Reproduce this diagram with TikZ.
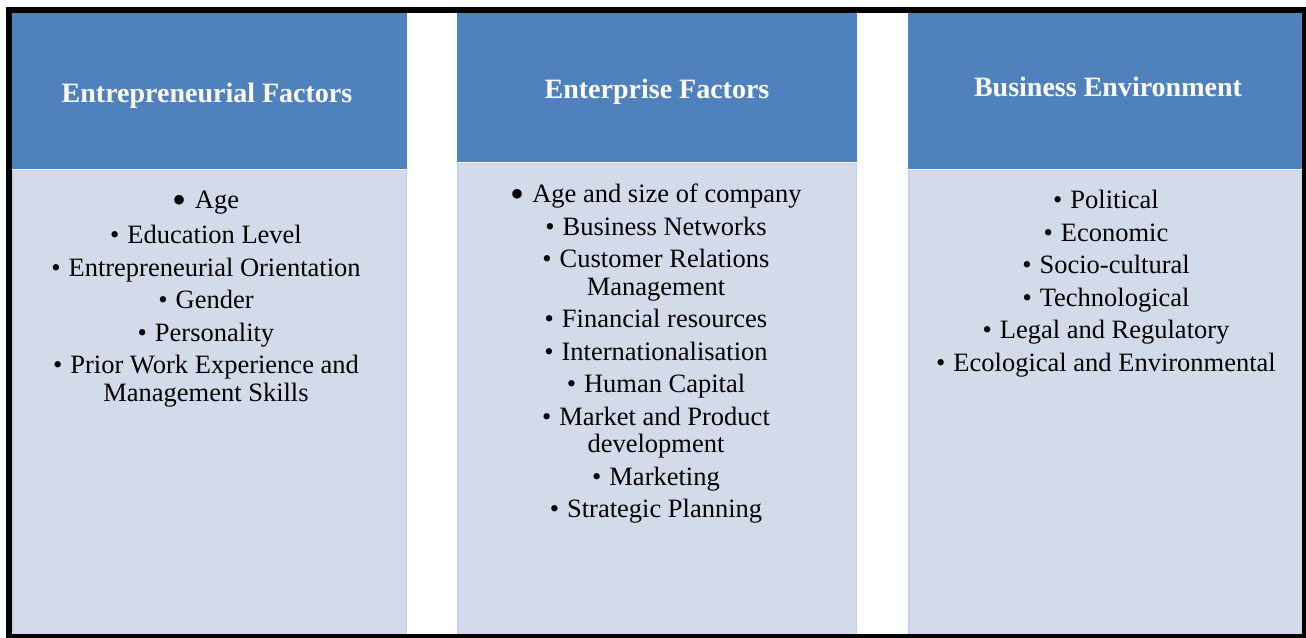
\documentclass[tikz,border=0pt]{standalone}
\usepackage{fontspec}
\setmainfont{Liberation Serif}
\usepackage{xcolor}
\usepackage{tikz}
\usetikzlibrary{positioning}
\definecolor{headblue}{HTML}{4F81BD}
\definecolor{panelgrey}{HTML}{D3DAE9}
\definecolor{paneledge}{HTML}{C6D0E3}
\tikzstyle{header} = [rectangle, fill=headblue, minimum width=395pt, inner sep=0pt, outer sep=0pt, anchor=north west]
\tikzstyle{headtext} = [text=white, font=\fontsize{28}{30}\selectfont\bfseries, anchor=base, inner sep=0pt]
\tikzstyle{panel} = [rectangle, fill=panelgrey, draw=paneledge, line width=1.5pt, minimum width=393.5pt, inner sep=0pt]
\tikzstyle{items} = [align=center, font=\fontsize{26.5}{27.5}\selectfont, anchor=north, inner sep=0pt]
\newcommand{\bul}{\textbullet\hspace{8pt}}
\newcommand{\bigbul}{\raisebox{-5pt}{\fontsize{40}{40}\selectfont\textbullet}\hspace{8pt}}

\begin{document}
\begin{tikzpicture}[x=1pt, y=-1pt]
    \useasboundingbox (0,0) rectangle (1306,637);
    \node[header, minimum height=157pt] (entHead) at (12,12) {};
    \node[header, minimum height=150pt, minimum width=400pt, right=50pt of entHead.north east, anchor=north west] (ecoHead) {};
    \node[header, minimum height=157pt, minimum width=394pt, right=51pt of ecoHead.north east, anchor=north west] (envHead) {};
    \node[panel, minimum height=464pt, below=0.75pt of entHead] (entPanel) {};
    \node[panel, minimum height=471pt, minimum width=398.5pt, below=0.75pt of ecoHead] (ecoPanel) {};
    \node[panel, minimum height=464pt, minimum width=392.5pt, below=0.75pt of envHead] (envPanel) {};

    \node[headtext] (entTitle) at (207,102) {Entrepreneurial Factors};
    \node[headtext] (ecoTitle) at (657,98) {Enterprise Factors};
    \node[headtext] (envTitle) at (1108,96) {Business Environment};

    \node[items] (entList) at (206,188.75) {\strut\bigbul Age\\[8pt]
        \bul Education Level\\[5pt]
        \bul Entrepreneurial Orientation\\[5pt]
        \bul Gender\\[5pt]
        \bul Personality\\[5pt]
        \bul Prior Work Experience and\\
        Management Skills};
    \node[items] (ecoList) at (656,183.25) {\strut\bigbul Age and size of company\\[5pt]
        \bul Business Networks\\[5pt]
        \bul Customer Relations\\
        Management\\[5pt]
        \bul Financial resources\\[5pt]
        \bul Internationalisation\\[5pt]
        \bul Human Capital\\[5pt]
        \bul Market and Product\\
        development\\[5pt]
        \bul Marketing\\[5pt]
        \bul Strategic Planning};
    \node[items] (envList) at (1106,189.25) {\strut\bul Political\\[5pt]
        \bul Economic\\[5pt]
        \bul Socio-cultural\\[5pt]
        \bul Technological\\[5pt]
        \bul Legal and Regulatory\\[5pt]
        \bul Ecological and Environmental};

    \draw[line width=6pt] (9,9.5) rectangle (1305,637);
\end{tikzpicture}
\end{document}
